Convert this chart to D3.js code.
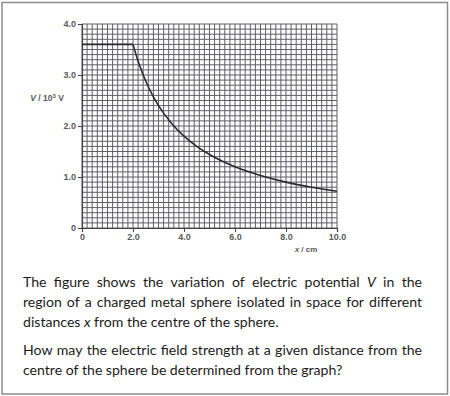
<!DOCTYPE html>
<html>
<head>
<meta charset="utf-8">
<script src="https://cdn.jsdelivr.net/npm/d3@7"></script>
<style>
  body { margin: 0; background: #fff; }
  svg { display: block; }
</style>
</head>
<body>
<div id="chart"></div>
<script>
// Values (x in cm, V in 10^3 V)
const insideX = [0, 2.0];
const insideV = [3.6, 3.6];
const outsideX = [2.0, 2.2, 2.4, 2.6, 2.8, 3.0, 3.5, 4.0, 4.5, 5.0, 6.0, 7.0, 8.0, 9.0, 10.0];
const outsideV = [3.6, 3.27, 3.0, 2.77, 2.57, 2.4, 2.06, 1.8, 1.6, 1.44, 1.2, 1.03, 0.9, 0.8, 0.72];

const xTicks = [0, 2, 4, 6, 8, 10];
const yTicks = [0, 1, 2, 3, 4];
const xTickLabels = ["0", "2.0", "4.0", "6.0", "8.0", "10.0"];
const yTickLabels = ["0", "1.0", "2.0", "3.0", "4.0"];

// question text, *word* = italic
const paragraphs = [
  [
    { words: "The figure shows the variation of electric potential *V* in the", justify: true },
    { words: "region of a charged metal sphere isolated in space for different", justify: true },
    { words: "distances *x* from the centre of the sphere.", justify: false }
  ],
  [
    { words: "How may the electric field strength at a given distance from the", justify: true },
    { words: "centre of the sphere be determined from the graph?", justify: false }
  ]
];

const W = 450, H = 396;

const svg = d3.select("#chart")
  .append("svg")
  .attr("width", W)
  .attr("height", H);

// page frame
svg.append("rect")
  .attr("x", 2).attr("y", 2.5)
  .attr("width", 445.5).attr("height", 391.5)
  .attr("fill", "none")
  .attr("stroke", "#8c8c8c")
  .attr("stroke-width", 1.5);

const x = d3.scaleLinear().domain([0, 10]).range([82, 337]);
const y = d3.scaleLinear().domain([0, 4]).range([228, 24]);

// graph paper: 0.2 cm squares across, 0.1 x 10^3 V up
const grid = svg.append("g").attr("stroke", "#5f5f66").attr("stroke-width", 1);
grid.selectAll(".vx")
  .data(d3.range(0, 51).map(i => i * 0.2))
  .join("line")
  .attr("x1", d => x(d)).attr("x2", d => x(d))
  .attr("y1", y(0)).attr("y2", y(4));
grid.selectAll(".hy")
  .data(d3.range(0, 41).map(i => i * 0.1))
  .join("line")
  .attr("x1", x(0)).attr("x2", x(10))
  .attr("y1", d => y(d)).attr("y2", d => y(d));

// axes
const tickFont = "'Liberation Sans', Arial, sans-serif";

const xAxis = svg.append("g")
  .attr("transform", `translate(0,${y(0)})`)
  .call(d3.axisBottom(x).tickValues(xTicks).tickSize(4).tickPadding(2)
    .tickFormat((d, i) => xTickLabels[i]));
const yAxis = svg.append("g")
  .attr("transform", `translate(${x(0)},0)`)
  .call(d3.axisLeft(y).tickValues(yTicks).tickSize(4).tickPadding(2)
    .tickFormat((d, i) => yTickLabels[i]));

[xAxis, yAxis].forEach(a => {
  a.select(".domain").attr("stroke", "#444").attr("stroke-width", 1.2);
  a.selectAll(".tick line").attr("stroke", "#444").attr("stroke-width", 1);
  a.selectAll(".tick text")
    .attr("fill", "#5a5a5a")
    .style("font-family", tickFont)
    .style("font-size", "9px")
    .style("font-weight", "bold");
});

// axis titles
const yTitle = svg.append("text")
  .attr("x", 47).attr("y", 101)
  .attr("text-anchor", "middle")
  .attr("fill", "#5a5a5a")
  .style("font-family", tickFont)
  .style("font-size", "8.5px")
  .style("font-weight", "bold");
yTitle.append("tspan").style("font-style", "italic").text("V");
yTitle.append("tspan").text(" / 10");
yTitle.append("tspan").attr("dy", -3).style("font-size", "6px").text("3");
yTitle.append("tspan").attr("dy", 3).text(" V");

const xTitle = svg.append("text")
  .attr("x", 306).attr("y", 252)
  .attr("text-anchor", "middle")
  .attr("fill", "#5a5a5a")
  .style("font-family", tickFont)
  .style("font-size", "8px")
  .style("font-weight", "bold");
xTitle.append("tspan").style("font-style", "italic").text("x");
xTitle.append("tspan").text(" / cm");

// potential curve
const line = d3.line()
  .x(d => x(d[0]))
  .y(d => y(d[1]))
  .curve(d3.curveMonotoneX);

[[insideX, insideV], [outsideX, outsideV]].forEach(([xs, vs]) => {
  svg.append("path")
    .datum(xs.map((d, i) => [d, vs[i]]))
    .attr("d", line)
    .attr("fill", "none")
    .attr("stroke", "#2b2b2e")
    .attr("stroke-width", 1.6);
});

// question text, justified by hand (one text element per word)
const textLeft = 23, textRight = 422;
const bodyFont = "Lato, 'Open Sans', sans-serif";
const bodySize = 14.1;
const baselines = [[286.5, 306.5, 326.5], [355, 375]];

paragraphs.forEach((para, p) => {
  para.forEach((ln, l) => {
    const g = svg.append("g").attr("class", "qline");
    const words = ln.words.split(" ");
    const nodes = words.map(w => {
      const it = w.startsWith("*");
      return g.append("text")
        .attr("y", baselines[p][l])
        .attr("fill", "#1b1b1b")
        .style("font-family", bodyFont)
        .style("font-size", bodySize + "px")
        .style("font-style", it ? "italic" : "normal")
        .text(it ? w.replace(/\*/g, "") : w);
    });
    const widths = nodes.map(s => s.node().getComputedTextLength());
    const sum = d3.sum(widths);
    const spaceW = ln.justify
      ? (textRight - textLeft - sum) / (words.length - 1)
      : bodySize * 0.25;
    let cx = textLeft;
    nodes.forEach((s, i) => {
      s.attr("x", cx);
      cx += widths[i] + spaceW;
    });
  });
});
</script>
</body>
</html>
